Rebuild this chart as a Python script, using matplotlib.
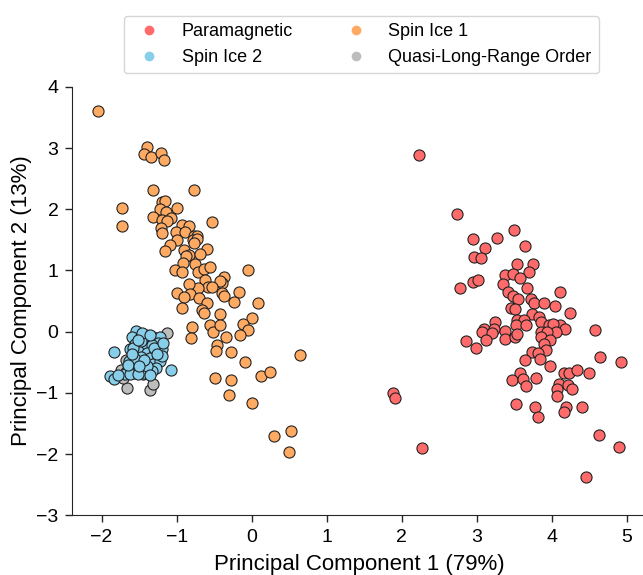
import matplotlib
matplotlib.use("Agg")
import matplotlib.pyplot as plt
from matplotlib.lines import Line2D

# Данные: главные компоненты по фазам
para_x = [2.23, 2.74, 2.95, 3.27, 3.49, 3.11, 3.64, 2.96, 3.06, 3.53, 3.75, 3.69, 3.38, 3.48,
          3.58, 2.77, 2.95, 3.02, 3.35, 3.67, 3.41, 3.48, 3.55, 4.11, 3.72, 3.76, 3.90, 4.04,
          4.24, 3.46, 3.51, 3.74, 3.83, 3.53, 3.63, 3.85, 3.24, 3.52, 3.65, 3.96, 4.11, 4.02,
          3.09, 3.23, 4.17, 4.58, 3.38, 3.85, 4.05, 3.93, 3.07, 3.20, 2.85, 2.99, 3.12, 3.37,
          3.51, 3.54, 3.86, 3.98, 3.89, 3.92, 3.74, 3.82, 3.84, 3.64, 3.97, 4.64, 4.92, 4.16,
          4.23, 4.33, 4.50, 3.57, 3.47, 3.62, 3.79, 3.66, 4.10, 4.07, 4.22, 4.27, 4.07, 3.52,
          3.78, 3.82, 4.19, 4.16, 4.40, 4.63, 4.90, 4.45, 1.88, 1.91, 2.27]
para_y = [2.89, 1.92, 1.52, 1.53, 1.66, 1.36, 1.40, 1.22, 1.20, 1.11, 1.11, 0.98, 0.93, 0.94,
          0.88, 0.71, 0.81, 0.84, 0.77, 0.72, 0.65, 0.58, 0.53, 0.65, 0.53, 0.47, 0.46, 0.42,
          0.30, 0.38, 0.37, 0.28, 0.24, 0.19, 0.19, 0.16, 0.15, 0.11, 0.10, 0.10, 0.11, 0.13,
          0.04, 0.05, 0.04, 0.03, 0.01, 0.00, 0.00, 0.00, -0.01, -0.02, -0.15, -0.27, -0.14, -0.12,
          -0.08, -0.04, -0.09, -0.13, -0.21, -0.30, -0.33, -0.35, -0.45, -0.47, -0.57, -0.41, -0.50, -0.67,
          -0.67, -0.62, -0.67, -0.68, -0.79, -0.77, -0.75, -0.89, -0.86, -0.94, -0.87, -0.94, -1.06, -1.18,
          -1.23, -1.40, -1.23, -1.31, -1.24, -1.69, -1.88, -2.37, -1.01, -1.08, -1.91]

ice1_x = [-2.05, -1.39, -1.44, -1.34, -1.21, -1.17, -1.31, -0.77, -1.73, -1.73, -1.19, -1.16,
          -1.22, -1.14, -0.99, -1.32, -1.20, -1.08, -1.13, -1.21, -1.19, -0.93, -0.83, -0.53,
          -1.01, -0.89, -0.77, -0.73, -0.78, -0.73, -1.00, -0.77, -1.09, -1.15, -0.90, -0.60,
          -0.83, -0.87, -0.69, -0.91, -0.75, -1.02, -0.93, -0.71, -0.64, -0.55, -0.05, -0.37,
          -0.62, -0.39, -0.42, -0.58, -0.53, -0.71, -0.83, -1.00, -0.82, -0.90, -0.70, -0.40,
          -0.37, -0.17, -0.23, 0.08, -0.59, -0.93, -0.66, -0.63, -0.42, 0.01, -0.80, -0.81,
          -0.56, -0.52, -0.42, -0.11, -0.05, -0.15, -0.34, -0.46, -0.47, -0.27, -0.09, 0.65,
          -0.49, -0.27, 0.12, 0.24, -0.30, 0.00, 0.30, 0.52, 0.50]
ice1_y = [3.61, 3.01, 2.91, 2.85, 2.92, 2.80, 2.32, 2.32, 2.02, 1.72, 2.12, 2.14,
          2.00, 1.96, 2.02, 1.87, 1.83, 1.86, 1.80, 1.69, 1.61, 1.74, 1.73, 1.79,
          1.63, 1.62, 1.56, 1.57, 1.50, 1.51, 1.50, 1.45, 1.41, 1.32, 1.33, 1.35,
          1.26, 1.24, 1.27, 1.12, 1.11, 1.01, 0.97, 0.98, 1.02, 1.06, 1.01, 0.89,
          0.84, 0.80, 0.83, 0.73, 0.73, 0.72, 0.77, 0.63, 0.62, 0.56, 0.55, 0.63,
          0.59, 0.64, 0.48, 0.46, 0.47, 0.39, 0.35, 0.31, 0.28, 0.22, 0.08, -0.11,
          0.10, 0.00, 0.10, 0.13, 0.03, -0.05, -0.09, -0.22, -0.32, -0.33, -0.50, -0.39,
          -0.76, -0.79, -0.73, -0.66, -1.03, -1.17, -1.71, -1.63, -1.97]

ice2_x = [-1.54, -1.41, -1.60, -1.49, -1.38, -1.31, -1.22, -1.25, -1.56, -1.44, -1.33, -1.62,
          -1.51, -1.40, -1.29, -1.20, -1.58, -1.47, -1.36, -1.25, -1.64, -1.53, -1.42, -1.31,
          -1.22, -1.60, -1.49, -1.38, -1.27, -1.67, -1.56, -1.44, -1.33, -1.69, -1.62, -1.84,
          -1.08, -1.89, -1.84, -1.78, -1.51, -1.40, -1.20, -1.58, -1.47,
          -1.46, -1.35, -1.52, -1.30, -1.55, -1.43, -1.65, -1.26, -1.36, -1.50, -1.59, -1.18]
ice2_y = [0.01, -0.05, -0.08, -0.11, -0.13, -0.09, -0.08, -0.18, -0.21, -0.24, -0.22, -0.29,
          -0.32, -0.35, -0.32, -0.29, -0.40, -0.42, -0.43, -0.42, -0.48, -0.51, -0.54, -0.53,
          -0.48, -0.59, -0.62, -0.60, -0.59, -0.66, -0.67, -0.67, -0.65, -0.69, -0.70, -0.34,
          -0.63, -0.73, -0.77, -0.71, -0.70, -0.57, -0.40, -0.27, -0.16,
          -0.02, -0.06, -0.14, -0.26, -0.45, -0.46, -0.55, -0.36, -0.71, -0.57, -0.36, -0.18]

qlro_x = [-1.13, -1.66, -1.35, -1.32, -1.74, -1.68, -1.71, -1.55, -1.45]
qlro_y = [-0.02, -0.92, -0.95, -0.85, -0.63, -0.46, -0.76, -0.60, -0.70]

labels = ["Paramagnetic", "Spin Ice 1", "Spin Ice 2", "Quasi-Long-Range Order"]
colors = ["#ff6b6b", "#ffaa62", "#87ceeb", "#bdbdbd"]

plt.rcParams["font.family"] = ["Liberation Sans", "DejaVu Sans"]

fig = plt.figure(figsize=(6.43, 5.75), dpi=100)
ax = fig.add_axes([0.1125, 0.104, 0.894, 0.745])

kw = dict(s=64, edgecolors="#222222", linewidths=0.8)
ax.scatter(para_x, para_y, color=colors[0], **kw)
ax.scatter(ice1_x, ice1_y, color=colors[1], **kw)
ax.scatter(qlro_x, qlro_y, color=colors[3], **kw)
ax.scatter(ice2_x, ice2_y, color=colors[2], **kw)

ax.set_xlim(-2.39, 5.27)
ax.set_ylim(-3, 4)
ax.set_xticks(range(-2, 6))
ax.set_yticks(range(-3, 5))
ax.set_xlabel("Principal Component 1 (79%)", fontsize=16, labelpad=6)
ax.set_ylabel("Principal Component 2 (13%)", fontsize=16, labelpad=3)
ax.tick_params(labelsize=14, length=5, width=1, pad=5, color="#262626")
for side in ["top", "right"]:
    ax.spines[side].set_visible(False)
for side in ["left", "bottom"]:
    ax.spines[side].set_color("#262626")

# Легенда в две колонки над графиком
handles = [Line2D([], [], marker="o", linestyle="", markersize=7, color=c, markeredgewidth=0)
           for c in colors]
order = [0, 2, 1, 3]
fig.legend([handles[i] for i in order], [labels[i] for i in order],
           loc="upper center", bbox_to_anchor=(0.562, 0.988), ncol=2, fontsize=13,
           frameon=True, edgecolor="#cccccc", handletextpad=0.8, columnspacing=2.5,
           borderpad=0.4, labelspacing=0.5)

fig.savefig("out.png", dpi=100)
